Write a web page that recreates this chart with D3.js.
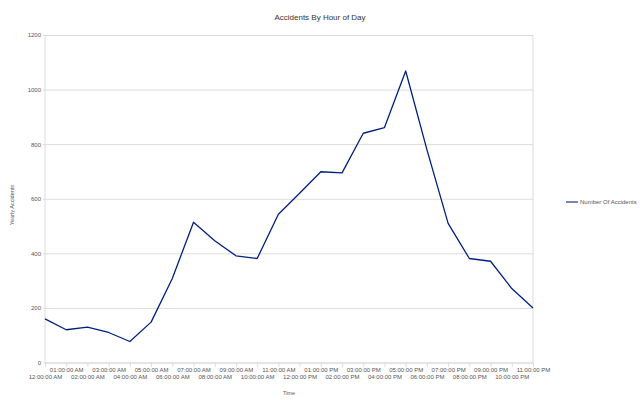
<!DOCTYPE html>
<html>
<head>
<meta charset="utf-8">
<script src="https://cdn.jsdelivr.net/npm/d3@7"></script>
<style>
  body { margin: 0; background: #fff; }
  svg { display: block; font-family: "Liberation Sans", Arial, sans-serif; }
</style>
</head>
<body>
<div id="chart"></div>
<script>
// hours of the day, in order
const hours = [
  "12:00:00 AM", "01:00:00 AM", "02:00:00 AM", "03:00:00 AM", "04:00:00 AM", "05:00:00 AM",
  "06:00:00 AM", "07:00:00 AM", "08:00:00 AM", "09:00:00 AM", "10:00:00 AM", "11:00:00 AM",
  "12:00:00 PM", "01:00:00 PM", "02:00:00 PM", "03:00:00 PM", "04:00:00 PM", "05:00:00 PM",
  "06:00:00 PM", "07:00:00 PM", "08:00:00 PM", "09:00:00 PM", "10:00:00 PM", "11:00:00 PM"
];
// yearly accidents per hour
const accidents = [
  160, 120, 130, 110, 77, 148,
  308, 514, 446, 391, 381, 543,
  620, 699, 695, 840, 861, 1068,
  780, 510, 381, 371, 271, 200
];
const yTicks = [0, 200, 400, 600, 800, 1000, 1200];
const seriesName = "Number Of Accidents";

const width = 640;
const height = 404;
const margin = { top: 35, right: 107, bottom: 41.5, left: 45 };

const svg = d3.select("#chart").append("svg")
  .attr("width", width)
  .attr("height", height);

const x = d3.scalePoint()
  .domain(hours)
  .range([margin.left, width - margin.right]);

const y = d3.scaleLinear()
  .domain([0, 1200])
  .range([height - margin.bottom, margin.top]);

// gridlines
svg.append("g")
  .attr("transform", `translate(${margin.left},0)`)
  .call(d3.axisLeft(y).tickValues(yTicks).tickFormat("").tickSize(-(width - margin.right - margin.left)).tickSizeOuter(0))
  .call((g) => g.select(".domain").remove())
  .call((g) => g.selectAll("line").attr("stroke", "#dcdcdc").attr("x1", -2));

// y axis labels
svg.append("g")
  .attr("transform", `translate(${margin.left},0)`)
  .call(d3.axisLeft(y).tickValues(yTicks).tickFormat(d3.format("d")).tickSize(0).tickPadding(4))
  .call((g) => g.select(".domain").remove())
  .call((g) => g.selectAll("text").attr("fill", "#555").attr("font-size", 6).attr("font-family", "Liberation Sans, Arial, sans-serif"));

// left and right borders
svg.append("line")
  .attr("x1", margin.left).attr("x2", margin.left)
  .attr("y1", margin.top).attr("y2", y(0))
  .attr("stroke", "#dcdcdc");
svg.append("line")
  .attr("x1", width - margin.right).attr("x2", width - margin.right)
  .attr("y1", margin.top).attr("y2", y(0))
  .attr("stroke", "#dcdcdc");

// x axis
const xAxis = svg.append("g")
  .attr("transform", `translate(0,${y(0)})`)
  .call(d3.axisBottom(x).tickSize(4.5).tickPadding(2).tickSizeOuter(0));
xAxis.select(".domain").attr("stroke", "#dcdcdc");
xAxis.selectAll("line").attr("stroke", "#dcdcdc");
xAxis.selectAll("text")
  .attr("fill", "#555")
  .attr("font-size", 6)
  .attr("font-family", "Liberation Sans, Arial, sans-serif")
  .attr("dy", null)
  .attr("y", (d, i) => (i % 2 === 1 ? 9.5 : 16));

// the line
const line = d3.line()
  .x((d, i) => x(hours[i]))
  .y((d) => y(d));

svg.append("path")
  .datum(accidents)
  .attr("fill", "none")
  .attr("stroke", "#002080")
  .attr("stroke-width", 1.3)
  .attr("stroke-linejoin", "round")
  .attr("d", line);

// title
svg.append("text")
  .attr("x", 320)
  .attr("y", 20)
  .attr("text-anchor", "middle")
  .attr("font-size", 8)
  .attr("fill", "#333")
  .text("Accidents By Hour of Day");

// axis titles
svg.append("text")
  .attr("x", (margin.left + width - margin.right) / 2)
  .attr("y", 394.5)
  .attr("text-anchor", "middle")
  .attr("font-size", 5.5)
  .attr("fill", "#555")
  .text("Time");

svg.append("text")
  .attr("transform", "translate(14,205) rotate(-90)")
  .attr("text-anchor", "middle")
  .attr("font-size", 5.5)
  .attr("fill", "#555")
  .text("Yearly Accidents");

// legend
const legend = svg.append("g").attr("transform", "translate(566,202)");
legend.append("line")
  .attr("x1", 0).attr("x2", 12)
  .attr("stroke", "#4a5f95")
  .attr("stroke-width", 1.5);
legend.append("text")
  .attr("x", 14)
  .attr("dy", "0.35em")
  .attr("font-size", 6)
  .attr("fill", "#555")
  .text(seriesName);
</script>
</body>
</html>
